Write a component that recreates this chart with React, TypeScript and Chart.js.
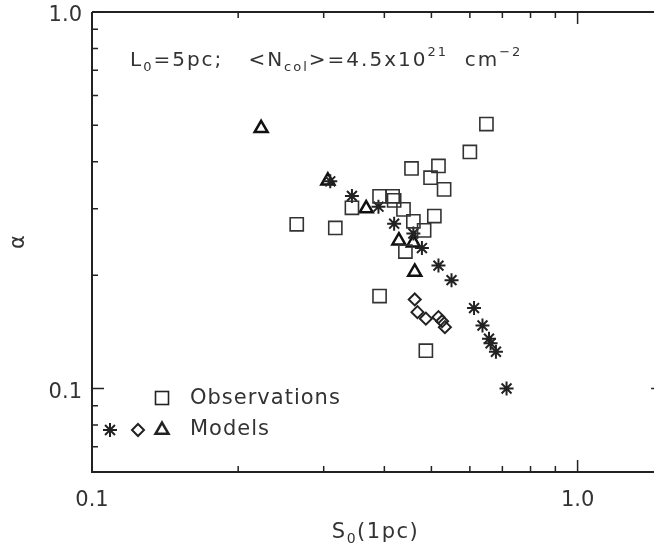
import React, { useEffect, useRef } from 'react';
import { Chart, registerables } from 'chart.js';

Chart.register(...registerables);

// ---- data ----
const OBS_X = [0.264, 0.317, 0.343, 0.391, 0.416, 0.419, 0.438, 0.455, 0.517, 0.498, 0.531, 0.507, 0.459, 0.483, 0.442, 0.391, 0.487, 0.600, 0.649];
const OBS_Y = [0.273, 0.267, 0.302, 0.324, 0.324, 0.316, 0.299, 0.384, 0.390, 0.363, 0.338, 0.287, 0.278, 0.263, 0.231, 0.176, 0.126, 0.425, 0.504];

const STAR_X = [0.3095, 0.343, 0.389, 0.419, 0.459, 0.478, 0.517, 0.550, 0.612, 0.637, 0.657, 0.662, 0.679, 0.714];
const STAR_Y = [0.355, 0.3245, 0.304, 0.274, 0.258, 0.236, 0.212, 0.194, 0.1635, 0.147, 0.1356, 0.1318, 0.1252, 0.100];

const DIA_X = [0.462, 0.468, 0.487, 0.517, 0.526, 0.533];
const DIA_Y = [0.1724, 0.1595, 0.1533, 0.1547, 0.1509, 0.1455];

const TRI_X = [0.223, 0.306, 0.367, 0.4285, 0.459, 0.462];
const TRI_Y = [0.491, 0.356, 0.3005, 0.247, 0.244, 0.204];

const X_MAJOR = [0.1, 1.0];
const X_TICK_LABELS = ['0.1', '1.0'];
const X_MINOR = [0.2, 0.3, 0.4, 0.5, 0.6, 0.7, 0.8, 0.9];
const Y_MAJOR = [0.1, 1.0];
const Y_TICK_LABELS = ['0.1', '1.0'];
const Y_MINOR = [0.06, 0.07, 0.08, 0.09, 0.2, 0.3, 0.4, 0.5, 0.6, 0.7, 0.8, 0.9];

// x title pieces and annotation pieces: [text, mode]  mode: n = normal, sub, sup
const X_TITLE: [string, string][] = [['S', 'n'], ['0', 'sub'], ['(1pc)', 'n']];
const Y_TITLE = '\u03b1';
const LEGEND_LABELS = ['Observations', 'Models'];
const NOTE: [string, string][] = [
  ['L', 'n'], ['0', 'sub'], ['=5pc;   <N', 'n'], ['col', 'sub'], ['>=4.5x10', 'n'], ['21', 'sup'], ['  cm', 'n'], ['\u22122', 'sup'],
];

const FONT = 'DejaVu Sans';
const INK = '#222';
const TXT = '#333';

const toPts = (xs: number[], ys: number[]) => xs.map((x, i) => ({ x, y: ys[i] }));

const drawPieces = (ctx: any, pieces: [string, string][], x0: number, base: number, size: number, small: number, spacing: number, align: 'left' | 'center') => {
  const fontFor = (m: string) => `${m === 'n' ? size : small}px "${FONT}"`;
  ctx.letterSpacing = `${spacing}px`;
  let total = 0;
  pieces.forEach(([t, m]) => {
    ctx.font = fontFor(m);
    total += ctx.measureText(t).width;
  });
  let x = align === 'center' ? x0 - total / 2 : x0;
  pieces.forEach(([t, m]) => {
    ctx.font = fontFor(m);
    const dy = m === 'sub' ? size * 0.25 : m === 'sup' ? -size * 0.5 : 0;
    ctx.fillText(t, x, base + dy);
    x += ctx.measureText(t).width;
  });
  ctx.letterSpacing = '0px';
};

const frame = {
  id: 'frame',
  afterDraw(chart: any) {
    const { ctx, chartArea: a, scales } = chart;
    const xs = scales.x;
    const ys = scales.y;
    ctx.save();
    ctx.strokeStyle = INK;
    ctx.lineWidth = 2;
    ctx.beginPath();
    ctx.moveTo(a.left, a.top);
    ctx.lineTo(a.right, a.top);
    ctx.moveTo(a.left, a.top);
    ctx.lineTo(a.left, a.bottom);
    ctx.lineTo(a.right, a.bottom);
    ctx.lineTo(a.right, a.top);
    ctx.stroke();

    ctx.lineWidth = 1.5;
    ctx.beginPath();
    const xt = (v: number, len: number) => {
      const p = xs.getPixelForValue(v);
      ctx.moveTo(p, a.bottom);
      ctx.lineTo(p, a.bottom - len);
      ctx.moveTo(p, a.top);
      ctx.lineTo(p, a.top + len);
    };
    X_MAJOR.forEach((v) => xt(v, 12));
    X_MINOR.forEach((v) => xt(v, 6));
    const yt = (v: number, len: number) => {
      const p = ys.getPixelForValue(v);
      ctx.moveTo(a.left, p);
      ctx.lineTo(a.left + len, p);
      ctx.moveTo(a.right, p);
      ctx.lineTo(a.right - len, p);
    };
    Y_MAJOR.forEach((v) => yt(v, 12));
    Y_MINOR.forEach((v) => yt(v, 6));
    ctx.stroke();

    ctx.fillStyle = TXT;
    ctx.textBaseline = 'alphabetic';
    ctx.textAlign = 'left';
    // annotation
    drawPieces(ctx, NOTE, 130, 66, 20, 13, 2, 'left');
    // x title
    drawPieces(ctx, X_TITLE, (a.left + a.right) / 2 - 2, 538, 21, 14, 1.5, 'center');

    // legend
    ctx.font = `21px "${FONT}"`;
    ctx.letterSpacing = '1px';
    ctx.textBaseline = 'middle';
    ctx.fillText(LEGEND_LABELS[0], 190, 399);
    ctx.fillText(LEGEND_LABELS[1], 190, 430);
    ctx.letterSpacing = '0px';
    ctx.strokeStyle = INK;
    // square
    ctx.lineWidth = 1.6;
    ctx.strokeRect(162 - 6.5, 398 - 6.5, 13, 13);
    // star
    ctx.lineWidth = 2;
    ctx.beginPath();
    const sx = 110, sy = 430, r = 7;
    for (let k = 0; k < 4; k++) {
      const ang = (k * Math.PI) / 4;
      ctx.moveTo(sx - Math.cos(ang) * r, sy - Math.sin(ang) * r);
      ctx.lineTo(sx + Math.cos(ang) * r, sy + Math.sin(ang) * r);
    }
    ctx.stroke();
    // diamond
    ctx.beginPath();
    ctx.moveTo(138, 430 - 6);
    ctx.lineTo(138 + 6, 430);
    ctx.lineTo(138, 430 + 6);
    ctx.lineTo(138 - 6, 430);
    ctx.closePath();
    ctx.stroke();
    // triangle
    ctx.lineWidth = 2.5;
    ctx.beginPath();
    const tr = 7.5;
    ctx.moveTo(162, 430 - tr);
    ctx.lineTo(162 + tr * Math.sin((2 * Math.PI) / 3), 430 + tr * 0.5);
    ctx.lineTo(162 - tr * Math.sin((2 * Math.PI) / 3), 430 + tr * 0.5);
    ctx.closePath();
    ctx.stroke();
    ctx.restore();
  },
};

const labelFor = (majors: number[], labels: string[]) => (value: any) => {
  const v = Number(value);
  for (let i = 0; i < majors.length; i++) {
    if (Math.abs(v - majors[i]) < 1e-9) return labels[i];
  }
  return '';
};

const noPad = (s: any) => {
  s.paddingTop = 0;
  s.paddingBottom = 0;
  s.paddingLeft = 0;
  s.paddingRight = 0;
};

export default function App() {
  const ref = useRef<HTMLCanvasElement>(null);
  useEffect(() => {
    const canvas = ref.current;
    if (!canvas) return;
    const tickFont = { family: FONT, size: 21 };
    const chart = new Chart(canvas, {
      type: 'scatter',
      data: {
        datasets: [
          {
            label: 'Observations',
            data: toPts(OBS_X, OBS_Y),
            pointStyle: 'rect',
            pointRadius: 9.3,
            borderColor: '#333',
            borderWidth: 1.6,
            backgroundColor: 'rgba(0,0,0,0)',
          },
          {
            label: 'Models (asterisk)',
            data: toPts(STAR_X, STAR_Y),
            pointStyle: 'star',
            pointRadius: 7,
            borderColor: INK,
            borderWidth: 2,
            backgroundColor: 'rgba(0,0,0,0)',
          },
          {
            label: 'Models (diamond)',
            data: toPts(DIA_X, DIA_Y),
            pointStyle: 'rectRot',
            pointRadius: 6,
            borderColor: INK,
            borderWidth: 2,
            backgroundColor: 'rgba(0,0,0,0)',
          },
          {
            label: 'Models (triangle)',
            data: toPts(TRI_X, TRI_Y),
            pointStyle: 'triangle',
            pointRadius: 7.5,
            borderColor: '#111',
            borderWidth: 2.5,
            backgroundColor: 'rgba(0,0,0,0)',
          },
        ],
      },
      options: {
        responsive: false,
        animation: false,
        devicePixelRatio: 1,
        layout: { padding: { top: 12, right: 0, bottom: 0, left: 0 } },
        plugins: { legend: { display: false }, tooltip: { enabled: false } },
        scales: {
          x: {
            type: 'logarithmic',
            min: 0.1,
            max: 1.5,
            grid: { display: false, drawTicks: false },
            border: { display: false },
            ticks: {
              autoSkip: false,
              maxRotation: 0,
              padding: 16,
              font: tickFont,
              color: TXT,
              callback: labelFor(X_MAJOR, X_TICK_LABELS),
            },
            afterFit: (s: any) => {
              s.height = 72;
              noPad(s);
            },
          },
          y: {
            type: 'logarithmic',
            min: 0.06,
            max: 1.0,
            grid: { display: false, drawTicks: false },
            border: { display: false },
            ticks: {
              autoSkip: false,
              padding: 10,
              labelOffset: 4,
              font: tickFont,
              color: TXT,
              callback: labelFor(Y_MAJOR, Y_TICK_LABELS),
            },
            title: { display: true, text: Y_TITLE, font: { family: FONT, size: 21 }, color: TXT, padding: { top: 6, bottom: 0 } },
            afterFit: (s: any) => {
              s.width = 92;
              noPad(s);
            },
          },
        },
      },
      plugins: [frame],
    } as any);
    return () => chart.destroy();
  }, []);
  return (
    <div style={{ position: 'fixed', left: 0, top: 0, width: 654, height: 544, overflow: 'hidden', background: '#fff' }}>
      <canvas ref={ref} width={674} height={544} style={{ display: 'block' }} />
    </div>
  );
}
